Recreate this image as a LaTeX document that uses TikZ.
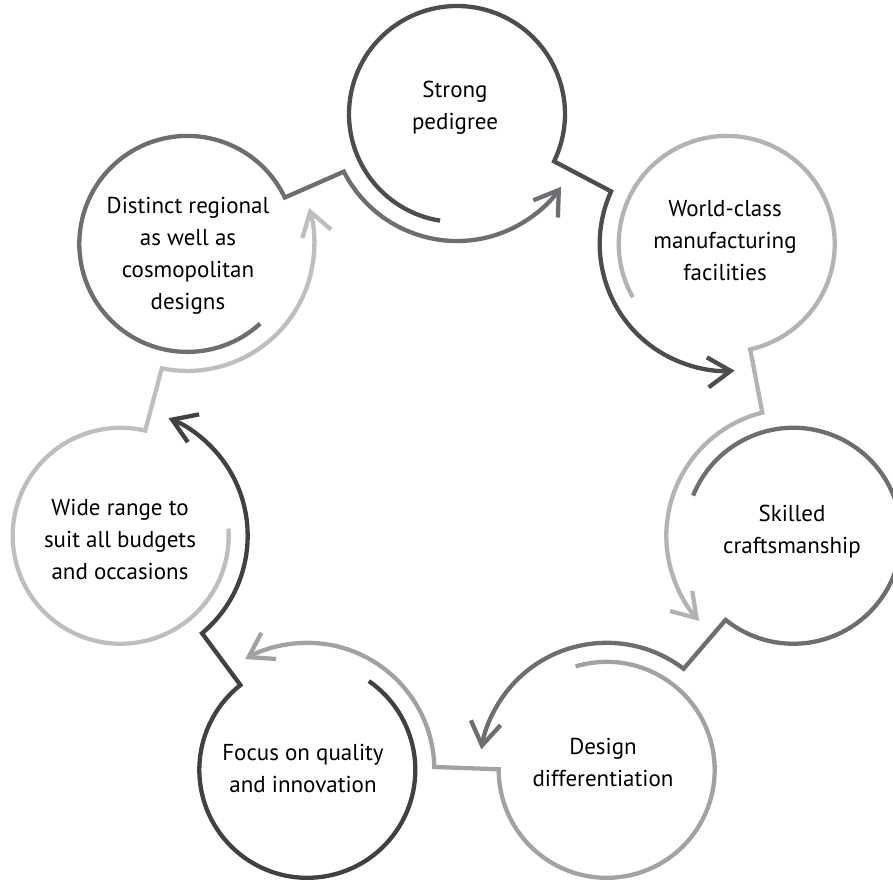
\documentclass[tikz,border=0pt]{standalone}
\usepackage{fontspec}
\setmainfont{PT Sans}
\usetikzlibrary{arrows.meta,calc}
\definecolor{g1}{RGB}{77,77,79}
\definecolor{g2}{RGB}{177,179,182}
\definecolor{g3}{RGB}{109,110,113}
\definecolor{g4}{RGB}{160,162,165}
\definecolor{g5}{RGB}{65,64,66}
\definecolor{g6}{RGB}{188,190,192}
\definecolor{g7}{RGB}{109,110,113}
\begin{document}
\begin{tikzpicture}[x=1pt,y=1pt,
  ringline/.style={line width=4.3pt, line join=miter,
    -{Straight Barb[length=23pt,width=30pt,line cap=butt,line join=miter]}},
  txt/.style={align=center, font=\fontsize{23}{32}\selectfont, inner sep=0pt, text=black}]
\useasboundingbox (0,0) rectangle (893,-882);
\coordinate (C) at (457,-459);
\foreach \i in {1,...,7} {
  \coordinate (c\i) at ($(C)+({90-(\i-1)*360/7}:345)$);
}
\foreach \i/\j/\col in {1/2/g1,2/3/g2,3/4/g3,4/5/g4,5/6/g5,6/7/g6,7/1/g7} {
  \pgfmathsetmacro\ta{90-(\i-1)*360/7}
  \pgfmathsetmacro\tb{90-(\j-1)*360/7}
  \draw[ringline,draw=\col]
    ($(c\i)+({\ta+171}:108)$) arc[start angle=\ta+171, end angle=\ta-116, radius=108]
    -- ($(c\j)+({\tb+117}:127)$) arc[start angle=\tb+117, end angle=\tb+235, radius=127];
}
\node[txt] (t1) at (455,-108) {Strong\\pedigree};
\node[txt] (t2) at (725,-241) {World-class\\manufacturing\\facilities};
\node[txt] (t3) at (792,-532) {Skilled\\craftsmanship};
\node[txt] (t4) at (603,-762) {Design\\differentiation};
\node[txt] (t5) at (303,-768) {Focus on quality\\and innovation};
\node[txt] (t6) at (120,-539) {Wide range to\\suit all budgets\\and occasions};
\node[txt] (t7) at (188,-256) {Distinct regional\\as well as\\cosmopolitan\\designs};
\end{tikzpicture}
\end{document}
